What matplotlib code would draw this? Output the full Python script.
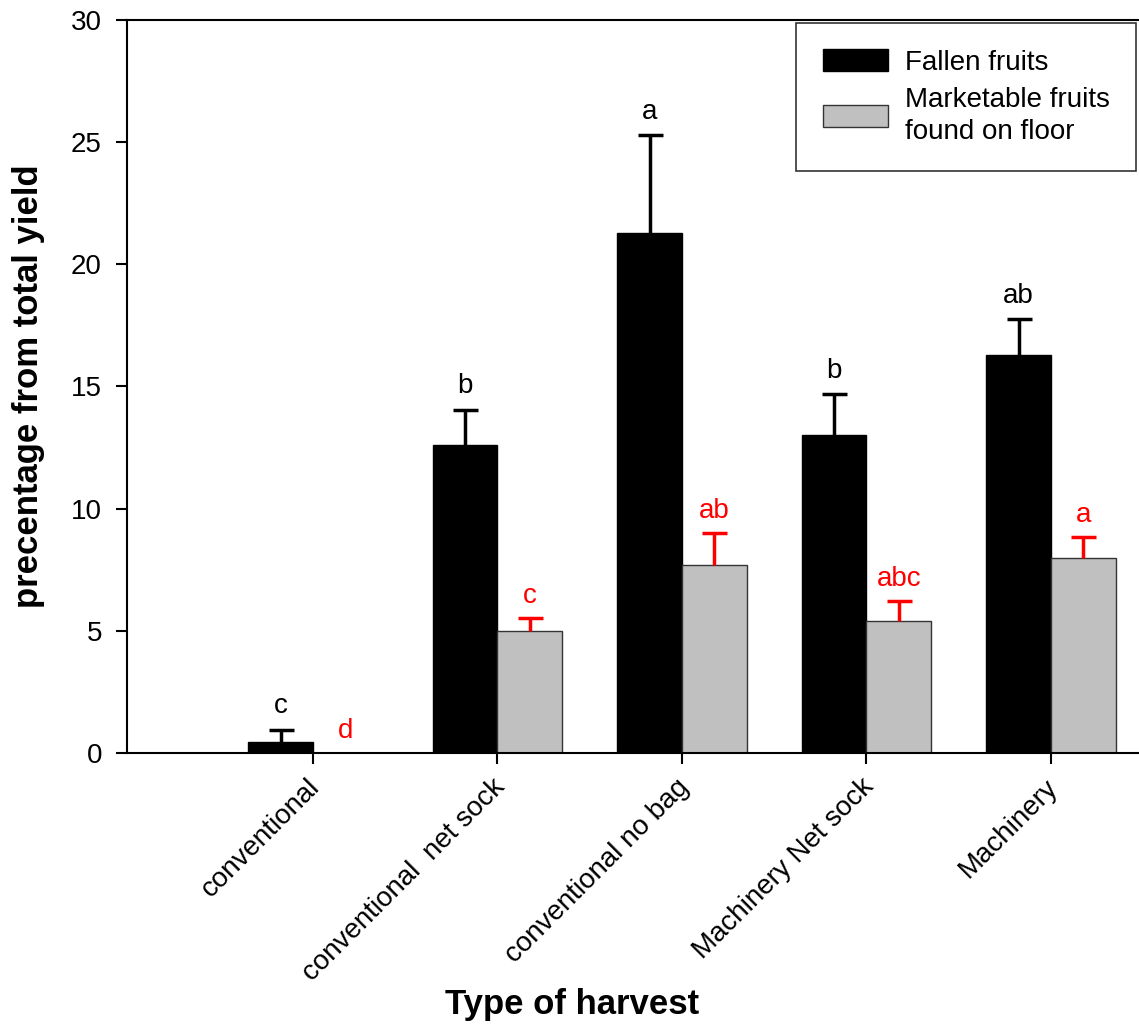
import numpy as np
import matplotlib.pyplot as plt
import matplotlib.transforms as mtransforms

plt.rcParams["font.family"] = ["Liberation Sans", "DejaVu Sans"]

# data
categories = ["conventional", "conventional  net sock", "conventional no bag",
              "Machinery Net sock", "Machinery"]
fallen = [0.45, 12.6, 21.3, 13.0, 16.3]
fallen_err = [0.5, 1.45, 4.0, 1.7, 1.45]
fallen_letters = ["c", "b", "a", "b", "ab"]
market = [0.0, 4.98, 7.7, 5.42, 7.98]
market_err = [0.0, 0.55, 1.3, 0.78, 0.85]
market_letters = ["d", "c", "ab", "abc", "a"]

x = np.arange(len(categories))
w = 0.352

fig = plt.figure(figsize=(11.39, 10.34), dpi=100)
ax = fig.add_axes([0.1115, 0.2718, 0.8885, 0.7089])

ax.bar(x - w / 2, fallen, w, color="black", edgecolor="black", linewidth=1,
       label="Fallen fruits")
ax.bar(x + w / 2, market, w, color="#c0c0c0", edgecolor="#333333", linewidth=1,
       label="Marketable fruits\nfound on floor")

# upper error bars only (hide the lower caps)
eb = ax.errorbar(x - w / 2, fallen, yerr=[np.zeros(len(x)), fallen_err], fmt="none",
                 ecolor="black", elinewidth=2.5, capsize=9, capthick=2.5)
eb[1][0].set_visible(False)
mx = x[1:] + w / 2
eb = ax.errorbar(mx, market[1:], yerr=[np.zeros(len(mx)), market_err[1:]], fmt="none",
                 ecolor="red", elinewidth=2.5, capsize=9, capthick=2.5)
eb[1][0].set_visible(False)

for i in range(len(x)):
    ax.text(x[i] - w / 2, fallen[i] + fallen_err[i] + 0.42, fallen_letters[i],
            ha="center", va="bottom", fontsize=20, color="black")
    ax.text(x[i] + w / 2, market[i] + market_err[i] + 0.38, market_letters[i],
            ha="center", va="bottom", fontsize=20, color="red")

ax.set_xlim(-1.008, 4.477)
ax.set_ylim(0, 30)
ax.set_yticks([0, 5, 10, 15, 20, 25, 30])
ax.set_xticks(x)
ax.set_xticklabels([])
ax.tick_params(axis="y", labelsize=20, length=8, width=1.5, direction="out", pad=10)
ax.tick_params(axis="x", length=8, width=1.5, direction="out")

# rotated category labels, anchored just below each tick
lbl_tr = ax.get_xaxis_transform() + mtransforms.ScaledTranslation(
    -0.06, -0.21, fig.dpi_scale_trans)
for xi, cat in zip(x, categories):
    ax.text(xi, 0, cat, transform=lbl_tr, rotation=45, ha="right", va="top",
            rotation_mode="anchor", fontsize=20)

ax.spines["right"].set_visible(False)
for s in ["left", "bottom", "top"]:
    ax.spines[s].set_linewidth(1.5)

ax.set_ylabel("precentage from total yield", fontsize=25, fontweight="bold")
ax.yaxis.set_label_coords(-0.081, 0.5)
ax.set_xlabel("Type of harvest", fontsize=25, fontweight="bold")
ax.xaxis.set_label_coords(0.44, -0.3206)

leg = ax.legend(loc="upper right", bbox_to_anchor=(0.997, 0.996), fontsize=20,
                frameon=True, fancybox=False, edgecolor="black",
                handlelength=2.35, handleheight=0.8, borderpad=0.95,
                labelspacing=0.4, handletextpad=0.6, borderaxespad=0)
leg.get_frame().set_linewidth(1.2)
for t in leg.get_texts():
    t.set_linespacing(1.3)

fig.savefig("out.png", dpi=100)
